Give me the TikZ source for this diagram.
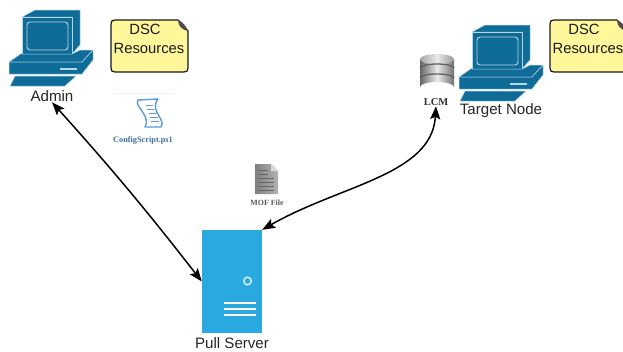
\documentclass[tikz,border=0pt]{standalone}
\usepackage{fontspec}
\setmainfont{Liberation Sans}
\newfontfamily\capfont{Liberation Serif}
\usetikzlibrary{arrows.meta}
\definecolor{pcblue}{HTML}{0F6C99}
\definecolor{pcedge}{HTML}{B5D6E4}
\definecolor{srvblue}{HTML}{29A9E0}
\definecolor{notey}{HTML}{FFF79A}
\definecolor{scriptblue}{HTML}{5B9BD5}
\definecolor{captxt}{HTML}{3F6F9F}
\tikzset{
  pcpart/.style={fill=pcblue,draw=pcedge,line width=0.5pt,line join=round},
  lab/.style={inner sep=0pt,font=\fontsize{15.1}{16}\selectfont,text=black!85},
  notebox/.style={fill=notey,draw=black!90,line width=1.2pt,line join=round},
  notetxt/.style={inner sep=0pt,font=\fontsize{14.8}{16}\selectfont,text=black!90},
  conn/.style={line width=1.5pt,black,{Stealth[length=13pt,width=10pt,inset=2.5pt]}-{Stealth[length=13pt,width=10pt,inset=2.5pt]}},
  dbband/.style={draw=black!62,line width=1.3pt},
  srvline/.style={white,line width=1.5pt},
  docline/.style={black!60,line width=1pt}
}
\newcommand{\computer}[2]{%
\begin{scope}[shift={(#1,#2)}]
  \path[pcpart] (22,17) -- (35,10) -- (80,10) -- (80,45) -- (72,54) -- (72,17) -- cycle;
  \path[pcpart] (22,17) rectangle (72,54);
  \draw[pcedge,line width=0.9pt,rounded corners=3pt] (27,22) rectangle (68,50);
  \path[pcpart] (9,62) -- (22,53) -- (22,54) -- (72,54) -- (80,50) -- (93,50) -- (82,62) -- cycle;
  \path[pcpart] (9,62) -- (82,62) -- (93,50) -- (93,60) -- (82,74) -- (9,74) -- cycle;
  \draw[pcedge,line width=1.1pt] (60,69) -- (77,69);
  \path[pcpart] (15,76) -- (76,76) -- (65,86) -- (10,86) -- cycle;
\end{scope}}
\newcommand{\notepaper}[1]{%
\begin{scope}[shift={(#1,0)}]
  \draw[notebox] (111,24) .. controls (111,21) and (112,20) .. (115,20) -- (178,20) -- (188,31) -- (188,68) .. controls (188,71) and (187,72) .. (184,72) -- (115,72) .. controls (112,72) and (111,71) .. (111,68) -- cycle;
  \fill[black!70] (178,20) .. controls (178,26) and (182,30) .. (188,31) .. controls (186,26) and (183,22) .. (178,20) -- cycle;
\end{scope}}
\begin{document}
\begin{tikzpicture}[x=1pt,y=-1pt]
\useasboundingbox (0,0) rectangle (623,351);
\clip (0,0) rectangle (623,351);
\fill[white] (0,0) rectangle (623,351);

% computers
\computer{0}{0}
\computer{450}{15}

% notes
\notepaper{0}
\notepaper{439}
\node[notetxt] (dsca) at (145,29) {DSC};
\node[notetxt] (resa) at (149,48) {Resources};
\node[notetxt] (dscb) at (584,29) {DSC};
\node[notetxt] (resb) at (588,48) {Resources};

% labels
\node[lab] (admin) at (52,96.5) {Admin};
\node[lab] (target) at (501,110.5) {Target Node};
\node[lab] (pull) at (232,343) {Pull Server};
\node[inner sep=0pt,font=\capfont\bfseries\fontsize{10.5}{12}\selectfont,text=black!80] (lcm) at (436,102.5) {LCM};
\node[inner sep=0pt,font=\capfont\bfseries\fontsize{7.9}{9}\selectfont,text=black!65] (mof) at (267,203) {MOF File};
\node[inner sep=0pt,font=\capfont\bfseries\fontsize{8.3}{9}\selectfont,text=captxt] (config) at (143,140) {ConfigScript.ps1};

% script icon
\draw[black!6,line width=0.6pt] (115,93) -- (173,93);
\draw[scriptblue,line width=1.4pt,line join=round,fill=white]
  (138,100) -- (158,99) .. controls (153,106) and (156,111) .. (159,116) .. controls (162,121) and (163,124) .. (161,127)
  -- (145,127) .. controls (148,122) and (146,117) .. (142,111) .. controls (139,107) and (136,103) .. (138,100) -- cycle;
\draw[scriptblue,line width=0.7pt] (146,105) -- (153,105) (147,109) -- (154,109) (149,113) -- (156,113) (150,117) -- (158,117) (151,121) -- (159,121);

% database icon
\path[left color=black!60,right color=black!55,middle color=black!8] (420,59) -- (420,87) arc[start angle=180,end angle=360,x radius=17,y radius=5] -- (454,59) arc[start angle=0,end angle=180,x radius=17,y radius=5] -- cycle;
\path[left color=black!35,right color=black!40,middle color=black!8] (420,59) arc[start angle=180,end angle=540,x radius=17,y radius=5];
\draw[dbband] (420,68) arc[start angle=180,end angle=360,x radius=17,y radius=4];
\draw[dbband] (420,78) arc[start angle=180,end angle=360,x radius=17,y radius=4];

% document icon
\path[left color=black!50,right color=black!30,draw=none] (255,164) -- (271,164) -- (278,171) -- (278,194) -- (255,194) -- cycle;
\fill[black!15] (271,164) -- (278,171) -- (271,171) -- cycle;
\foreach \yy/\xe in {170/268,174/268,178/274,182/274,186/274,190/274} \draw[docline] (258,\yy) -- (\xe,\yy);

% server
\node[fill=srvblue,minimum width=60pt,minimum height=103pt,inner sep=0pt,draw=none] (server) at (232,281.5) {};
\draw[white!80!srvblue,fill=srvblue,line width=1.5pt] (247.5,281) circle (3.8);
\draw[srvline] (224,303) -- (256,303) (224,309) -- (256,309) (224,315) -- (256,315);

% connectors
\draw[conn] (admin.south) to[bend left=2] (server.west);
\draw[conn] (lcm.south) .. controls (432,175) and (340,185) .. (server.north east);
\end{tikzpicture}
\end{document}
